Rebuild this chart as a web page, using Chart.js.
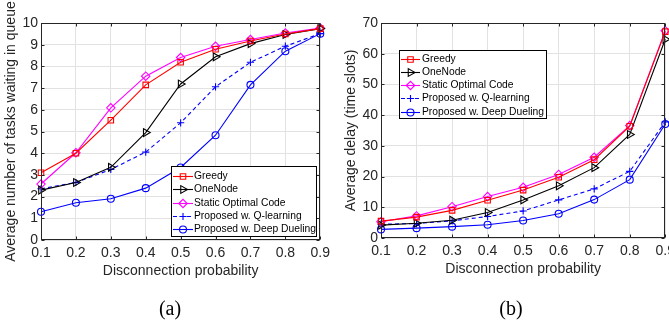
<!DOCTYPE html>
<html><head><meta charset="utf-8">
<script src="https://cdn.jsdelivr.net/npm/chart.js@4.4.1/dist/chart.umd.min.js"></script>
<style>
html,body{margin:0;padding:0;background:#fff;overflow:hidden;width:669px;height:321px;position:relative;}
#wa{position:absolute;left:0;top:0;width:335px;height:321px;}
#wb{position:absolute;left:335px;top:0;width:345px;height:321px;}
.cap{position:absolute;top:296px;font-family:"Liberation Serif","Times New Roman",serif;font-size:20px;color:#000;width:60px;text-align:center;line-height:24px;}
</style></head><body>
<div id="wa"><canvas id="ca"></canvas></div>
<div id="wb"><canvas id="cb"></canvas></div>
<div class="cap" style="left:140px">(a)</div>
<div class="cap" style="left:481px">(b)</div>
<script>
// ---- data ----
const probabilities = ['0.1','0.2','0.3','0.4','0.5','0.6','0.7','0.8','0.9'];
const seriesNames = ['Greedy','OneNode','Static Optimal Code','Proposed w. Q-learning','Proposed w. Deep Dueling'];

const queueGreedy      = [3.10, 4.00, 5.52, 7.15, 8.19, 8.79, 9.17, 9.49, 9.74];
const queueOneNode     = [2.30, 2.65, 3.35, 4.95, 7.19, 8.44, 9.05, 9.47, 9.74];
const queueStatic      = [2.58, 4.02, 6.09, 7.55, 8.41, 8.93, 9.24, 9.54, 9.77];
const queueQLearning   = [2.36, 2.65, 3.25, 4.05, 5.40, 7.06, 8.19, 8.93, 9.51];
const queueDeepDueling = [1.30, 1.72, 1.90, 2.39, 3.34, 4.83, 7.15, 8.70, 9.51];

const delayGreedy      = [5.5, 6.8, 9.0, 12.3, 15.6, 19.8, 25.5, 36.4, 67.2];
const delayOneNode     = [4.2, 4.8, 5.8, 8.3, 12.4, 17.0, 22.9, 33.7, 64.7];
const delayStatic      = [5.3, 7.2, 10.2, 13.5, 16.5, 20.7, 26.3, 36.6, 67.5];
const delayQLearning   = [4.5, 4.7, 5.6, 7.0, 8.8, 12.4, 16.0, 21.7, 37.8];
const delayDeepDueling = [2.8, 3.2, 3.7, 4.3, 5.7, 7.9, 12.5, 19.0, 37.1];

// ---- styles ----
const styles = [
  {color:'#ff0000', pointStyle:'rect',     rotation:0,  radius:3.9, dash:[]},
  {color:'#000000', pointStyle:'triangle', rotation:90, radius:4.5, dash:[]},
  {color:'#ff00ff', pointStyle:'rectRot',  rotation:0,  radius:4.2, dash:[]},
  {color:'#0000ff', pointStyle:'cross',    rotation:0,  radius:3.6, dash:[4,3]},
  {color:'#0000ff', pointStyle:'circle',   rotation:0,  radius:3.5, dash:[]}
];

function makeDatasets(seriesList){
  return seriesList.map((vals,i)=>({
    label: seriesNames[i],
    data: vals,
    borderColor: styles[i].color,
    backgroundColor: 'transparent',
    pointBorderColor: styles[i].color,
    pointBackgroundColor: 'transparent',
    pointStyle: styles[i].pointStyle,
    pointRotation: styles[i].rotation,
    pointRadius: styles[i].radius,
    pointHoverRadius: styles[i].radius,
    pointBorderWidth: 1.1,
    borderWidth: 1.1,
    borderDash: styles[i].dash,
    tension: 0,
    fill: false
  }));
}

const axisColor = '#262626';
const tickFont = {family:'"Liberation Sans", Arial, sans-serif', size:14};

const framePlugin = {
  id:'frame',
  afterDatasetsDraw(chart){
    const ctx = chart.ctx;
    const a = chart.chartArea;
    const l = Math.round(a.left)+0.5, r = Math.round(a.right)-0.5, t = Math.round(a.top)+0.5, b = Math.round(a.bottom)-0.5;
    ctx.save();
    ctx.strokeStyle = axisColor; ctx.lineWidth = 1; ctx.setLineDash([]);
    ctx.beginPath();
    const xs = chart.scales.x, ys = chart.scales.y;
    xs.ticks.forEach((tk,i)=>{ const p = Math.round(xs.getPixelForTick(i))+0.5; ctx.moveTo(p,b); ctx.lineTo(p,b-3); ctx.moveTo(p,t); ctx.lineTo(p,t+3); });
    ys.ticks.forEach((tk,i)=>{ const p = Math.round(ys.getPixelForTick(i))+0.5; ctx.moveTo(l,p); ctx.lineTo(l+3,p); ctx.moveTo(r,p); ctx.lineTo(r-3,p); });
    ctx.stroke();
    ctx.strokeRect(l,t,r-l,b-t);
    ctx.restore();
  }
};

function drawMarker(ctx, st, x, y){
  if (Chart.helpers && Chart.helpers.drawPoint){
    Chart.helpers.drawPoint(ctx, {pointStyle:st.pointStyle, rotation:st.rotation, radius:st.radius, borderWidth:1}, x, y);
  }
}

const boxLegendPlugin = {
  id:'boxLegend',
  afterDraw(chart, args, o){
    const ctx = chart.ctx;
    ctx.save();
    ctx.fillStyle = '#fff';
    ctx.fillRect(o.x, o.y, o.w, o.h);
    ctx.strokeStyle = '#000'; ctx.lineWidth = 1; ctx.setLineDash([]);
    ctx.strokeRect(o.x+0.5, o.y+0.5, o.w, o.h);
    ctx.font = '10.3px "Liberation Sans", Arial, sans-serif';
    ctx.textBaseline = 'middle';
    chart.data.datasets.forEach((ds,i)=>{
      const st = styles[i];
      const cy = Math.round(o.y + o.first + i*o.row)+0.5;
      ctx.strokeStyle = st.color; ctx.lineWidth = 1.1;
      ctx.setLineDash(st.dash);
      ctx.beginPath(); ctx.moveTo(o.x + o.l0, cy); ctx.lineTo(o.x + o.l1, cy); ctx.stroke();
      ctx.setLineDash([]);
      ctx.fillStyle = 'rgba(0,0,0,0)';
      drawMarker(ctx, st, o.x + (o.l0+o.l1)/2, cy);
      ctx.fillStyle = '#000';
      ctx.fillText(ds.label, o.x + o.tx, cy);
    });
    ctx.restore();
  }
};

function makeChart(id, series, yMax, yStep, yTitle, yWidth, titlePad, pad, legend){
  return new Chart(document.getElementById(id), {
    type:'line',
    data:{ labels: probabilities, datasets: makeDatasets(series) },
    plugins:[framePlugin, boxLegendPlugin],
    options:{
      responsive:true, maintainAspectRatio:false, animation:false,
      layout:{ padding: pad },
      plugins:{ legend:{display:false}, tooltip:{enabled:false}, boxLegend: legend },
      scales:{
        x:{
          type:'category', offset:false,
          grid:{ color:'#e2e2e2', drawTicks:false, lineWidth:1 },
          border:{ display:false },
          ticks:{ color:axisColor, font:tickFont, padding:5, maxRotation:0, autoSkip:false },
          title:{ display:true, text:'Disconnection probability', color:axisColor, font:tickFont, padding:{top:0,bottom:0} },
          afterFit(s){ s.height = 40; }
        },
        y:{
          min:0, max:yMax,
          grid:{ color:'#e2e2e2', drawTicks:false, lineWidth:1 },
          border:{ display:false },
          ticks:{ stepSize:yStep, color:axisColor, font:tickFont, padding:3 },
          title:{ display:true, text:yTitle, color:axisColor, font:tickFont, padding:titlePad },
          afterFit(s){ s.width = yWidth; }
        }
      }
    }
  });
}

makeChart('ca', [queueGreedy, queueOneNode, queueStatic, queueQLearning, queueDeepDueling],
  10, 1, 'Average number of tasks waiting in queue', 41, {top:3,bottom:0},
  {left:0, right:9, top:23, bottom:41},
  {x:171, y:166, w:145, h:70, first:10, row:13.3, l0:2, l1:22, tx:23});

makeChart('cb', [delayGreedy, delayOneNode, delayStatic, delayQLearning, delayDeepDueling],
  70, 10, 'Average delay (time slots)', 46, {top:8,bottom:0},
  {left:0, right:14, top:23, bottom:43},
  {x:64, y:50, w:147, h:68, first:8.7, row:13.2, l0:2, l1:21, tx:23});
</script>
</body></html>
